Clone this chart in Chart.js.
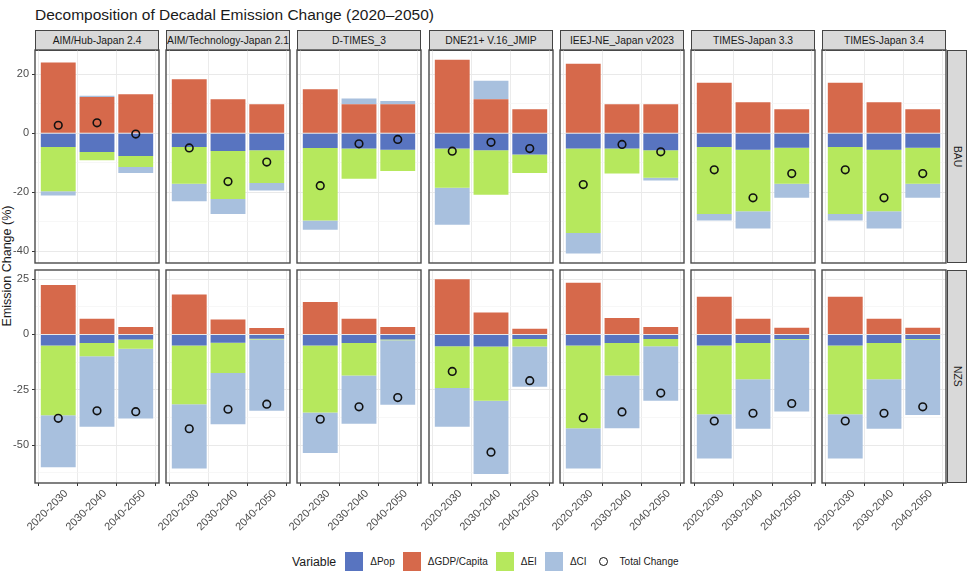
<!DOCTYPE html>
<html><head><meta charset="utf-8">
<script src="https://cdn.jsdelivr.net/npm/chart.js@4.4.1/dist/chart.umd.min.js"></script>
<style>
body{margin:0;background:#fff;width:974px;height:577px;position:relative;overflow:hidden;font-family:'Liberation Sans',Arial,sans-serif;}
#title{position:absolute;left:35px;top:6px;font-size:15.5px;color:#1a1a1a;white-space:nowrap;}
.strip{position:absolute;background:#d9d9d9;border:1px solid #444;box-sizing:border-box;font-size:10.3px;color:#1a1a1a;display:flex;align-items:center;justify-content:center;white-space:nowrap;overflow:hidden;}
.rstrip{writing-mode:vertical-rl;}
.pc{position:absolute;}
#ylab{position:absolute;left:7px;top:266px;transform:translate(-50%,-50%) rotate(-90deg);font-size:12.5px;color:#1a1a1a;white-space:nowrap;}
#legend{position:absolute;left:292px;top:552px;height:19px;display:flex;align-items:center;white-space:nowrap;}
#legend .ttl{font-size:12.3px;color:#1a1a1a;margin-right:9px;}
#legend .sw{width:18px;height:19px;}
#legend .lt{font-size:10px;color:#1a1a1a;margin-left:7px;margin-right:8px;}
#legend .ck{width:18px;height:19px;display:flex;align-items:center;justify-content:center;}
#legend .ck div{width:7px;height:7px;border:1.6px solid #111;border-radius:50%;}
</style></head><body>
<div id="title">Decomposition of Decadal Emission Change (2020–2050)</div>
<div id="ylab">Emission Change (%)</div>
<div id="legend"></div>
<script>
const models = ['AIM/Hub-Japan 2.4','AIM/Technology-Japan 2.1','D-TIMES_3','DNE21+ V.16_JMIP','IEEJ-NE_Japan v2023','TIMES-Japan 3.3','TIMES-Japan 3.4'];
const periods = ['2020-2030','2030-2040','2040-2050'];
const scenarios = ['BAU','NZS'];
const variables = ['ΔPop','ΔGDP/Capita','ΔEI','ΔCI'];
const totalLabel = 'Total Change';

// BAU values per model, per period
const popBAU = [[-4.7,-6.4,-7.7],[-4.7,-6.0,-5.8],[-5.0,-5.2,-5.6],[-5.2,-5.8,-7.2],[-5.2,-5.2,-5.8],[-4.7,-5.6,-4.9],[-4.7,-5.6,-4.9]];
const gdpBAU = [[24.0,12.3,13.2],[18.3,11.5,9.8],[14.9,9.8,9.8],[24.9,11.5,8.1],[23.5,9.8,9.8],[17.1,10.5,8.1],[17.1,10.5,8.1]];
const eiBAU  = [[-15.0,-2.8,-3.8],[-12.4,-16.3,-11.1],[-24.6,-10.2,-7.2],[-13.3,-15.1,-6.3],[-28.6,-8.5,-9.3],[-22.7,-20.9,-12.2],[-22.7,-20.9,-12.2]];
const ciBAU  = [[-1.4,0.4,-2.0],[-6.0,-5.1,-2.5],[-3.1,2.0,1.1],[-12.5,6.3,0.0],[-7.0,0.0,-0.9],[-2.2,-5.8,-4.8],[-2.2,-5.8,-4.8]];
const totBAU = [[2.7,3.5,-0.3],[-5.0,-16.4,-9.8],[-17.8,-3.6,-2.1],[-6.1,-3.1,-5.2],[-17.4,-3.8,-6.3],[-12.4,-21.9,-13.7],[-12.4,-21.9,-13.7]];

// NZS values per model, per period
const popNZS = [[-5.0,-3.9,-2.3],[-5.0,-3.8,-2.0],[-5.0,-3.9,-2.3],[-5.3,-5.5,-2.1],[-5.0,-3.9,-2.1],[-5.0,-3.9,-2.1],[-5.0,-3.9,-2.1]];
const gdpNZS = [[22.3,7.1,3.3],[18.0,6.7,2.9],[14.7,7.1,3.3],[24.9,9.9,2.6],[23.3,7.4,3.3],[17.0,7.1,3.0],[17.0,7.1,3.0]];
const eiNZS  = [[-31.5,-6.0,-4.2],[-26.5,-13.6,-0.3],[-30.3,-14.7,-0.3],[-18.9,-24.5,-3.4],[-37.4,-14.7,-3.2],[-31.0,-16.3,-0.3],[-31.0,-16.3,-0.3]];
const ciNZS  = [[-23.5,-31.8,-31.5],[-29.1,-23.2,-32.2],[-18.2,-21.7,-29.2],[-17.5,-33.0,-18.1],[-18.2,-23.8,-24.7],[-20.0,-22.4,-32.4],[-20.0,-22.4,-34.0]];
const totNZS = [[-37.9,-34.5,-34.9],[-42.6,-33.8,-31.5],[-38.3,-32.7,-28.5],[-16.7,-53.2,-20.9],[-37.6,-35.0,-26.5],[-39.1,-35.6,-31.2],[-39.1,-35.6,-32.7]];

// axis ticks per row
const yMajorBAU = [-40,-20,0,20];
const yMinorBAU = [-30,-10,10];
const yMajorNZS = [-50,-25,0,25];
const yMinorNZS = [-62.5,-37.5,-12.5,12.5];

const colors = ['#5874c0','#d6694b','#b6e85d','#a8c0de'];

const rowData = [
  {pop:popBAU,gdp:gdpBAU,ei:eiBAU,ci:ciBAU,tot:totBAU,major:yMajorBAU,minor:yMinorBAU,min:-44,max:28.2},
  {pop:popNZS,gdp:gdpNZS,ei:eiNZS,ci:ciNZS,tot:totNZS,major:yMajorNZS,minor:yMinorNZS,min:-67.1,max:29.1}
];

// layout
const PANEL_LEFT = 35, PANEL_STEP = 131.17, PANEL_W = 124;
const ROW_TOP = [50, 270], PANEL_H = 213;
const Y_AXIS_W = 35, X_AXIS_H = 62;

Chart.defaults.font.family = "'Liberation Sans', Arial, sans-serif";
Chart.defaults.color = '#4d4d4d';

const borderPlugin = {
  id: 'panelBorder',
  afterDraw(chart) {
    const a = chart.chartArea, ctx = chart.ctx;
    ctx.save();
    ctx.strokeStyle = '#4a4a4a';
    ctx.lineWidth = 1.4;
    ctx.strokeRect(a.left, a.top, a.right - a.left, a.bottom - a.top);
    ctx.restore();
  }
};

function pts(arr) { return arr.map((v, k) => ({x: k, y: v})); }
function noPad(sc) { sc.paddingTop = 0; sc.paddingBottom = 0; sc.paddingLeft = 0; sc.paddingRight = 0; }

for (let c = 0; c < models.length; c++) {
  const px = Math.round(PANEL_LEFT + c * PANEL_STEP);
  const s = document.createElement('div');
  s.className = 'strip';
  s.style.left = px + 'px'; s.style.top = '30px';
  s.style.width = PANEL_W + 'px'; s.style.height = '21px';
  s.textContent = models[c];
  document.body.appendChild(s);
}
scenarios.forEach((sc, r) => {
  const s = document.createElement('div');
  s.className = 'strip rstrip';
  s.style.left = '947px'; s.style.top = ROW_TOP[r] + 'px';
  s.style.width = '20px'; s.style.height = PANEL_H + 'px';
  s.textContent = sc;
  document.body.appendChild(s);
});

for (let r = 0; r < 2; r++) {
  const d = rowData[r];
  for (let c = 0; c < models.length; c++) {
    const extraL = Y_AXIS_W;
    const extraB = r === 1 ? X_AXIS_H : 0;
    const px = Math.round(PANEL_LEFT + c * PANEL_STEP);
    const wrap = document.createElement('div');
    wrap.className = 'pc';
    const w = PANEL_W + extraL + 12, h = PANEL_H + extraB + 2;
    wrap.style.left = (px - extraL - 1) + 'px';
    wrap.style.top = (ROW_TOP[r] - 1) + 'px';
    wrap.style.width = w + 'px'; wrap.style.height = h + 'px';
    const cv = document.createElement('canvas');
    cv.width = w; cv.height = h;
    wrap.appendChild(cv);
    document.body.appendChild(wrap);

    const datasets = [
      {type:'scatter', label: totalLabel, data: pts(d.tot[c]), stack:'pts', order:0,
       pointStyle:'circle', radius:3.8, borderWidth:1.6, borderColor:'#111', backgroundColor:'rgba(0,0,0,0)'},
      {type:'bar', label: variables[0], data: pts(d.pop[c]), backgroundColor: colors[0], order:1, stack:'bars'},
      {type:'bar', label: variables[1], data: pts(d.gdp[c]), backgroundColor: colors[1], order:1, stack:'bars'},
      {type:'bar', label: variables[2], data: pts(d.ei[c]), backgroundColor: colors[2], order:1, stack:'bars'},
      {type:'bar', label: variables[3], data: pts(d.ci[c]), backgroundColor: colors[3], order:1, stack:'bars'}
    ];

    new Chart(cv, {
      type: 'bar',
      data: { datasets },
      plugins: [borderPlugin],
      options: {
        responsive: false, animation: false, devicePixelRatio: 1,
        layout: { autoPadding: false, padding: {left:1, right:11, top:1, bottom:1} },
        datasets: { bar: { barPercentage: 0.9, categoryPercentage: 1.0, borderWidth: 0 } },
        plugins: { legend: {display:false}, tooltip: {enabled:false} },
        scales: {
          x: {
            type: 'linear', min: -0.6, max: 2.6, offset: false, stacked: true,
            afterBuildTicks: (sc) => { sc.ticks = periods.map((p, k) => ({value: k})); },
            afterFit: (sc) => { sc.height = extraB; noPad(sc); },
            border: {display:false},
            grid: { color:'#ebebeb', lineWidth:1, drawTicks: r === 1, tickLength:3, tickColor:'#333' },
            ticks: { display: r === 1, autoSkip:false, minRotation:45, maxRotation:45, padding:1, labelOffset:8,
                     font:{size:11}, color:'#4d4d4d', callback: (v) => periods[v] ?? '' }
          },
          y: {
            stacked: true, min: d.min, max: d.max,
            afterBuildTicks: (sc) => { sc.ticks = [...d.minor, ...d.major].sort((a,b)=>a-b).map(v => ({value:v})); },
            afterFit: (sc) => { sc.width = extraL; noPad(sc); },
            border: {display:false},
            grid: {
              color: (ctx) => (ctx.tick && d.major.includes(ctx.tick.value)) ? '#e9e9e9' : '#f3f3f3',
              lineWidth: (ctx) => (ctx.tick && d.major.includes(ctx.tick.value)) ? 1 : 0.7,
              drawTicks: c === 0, tickLength: 3,
              tickColor: (ctx) => (ctx.tick && d.major.includes(ctx.tick.value)) ? '#333' : 'rgba(0,0,0,0)'
            },
            ticks: { display: c === 0, autoSkip:false, padding:3, font:{size:11}, color:'#4d4d4d',
                     callback: (v) => d.major.includes(v) ? String(v) : '' }
          }
        }
      }
    });
  }
}

// legend
const lg = document.getElementById('legend');
lg.innerHTML = '<span class="ttl">Variable</span>' +
  variables.map((v, i) => `<div class="sw" style="background:${colors[i]}"></div><span class="lt">${v}</span>`).join('') +
  `<div class="ck"><div></div></div><span class="lt">${totalLabel}</span>`;
</script>
</body></html>
